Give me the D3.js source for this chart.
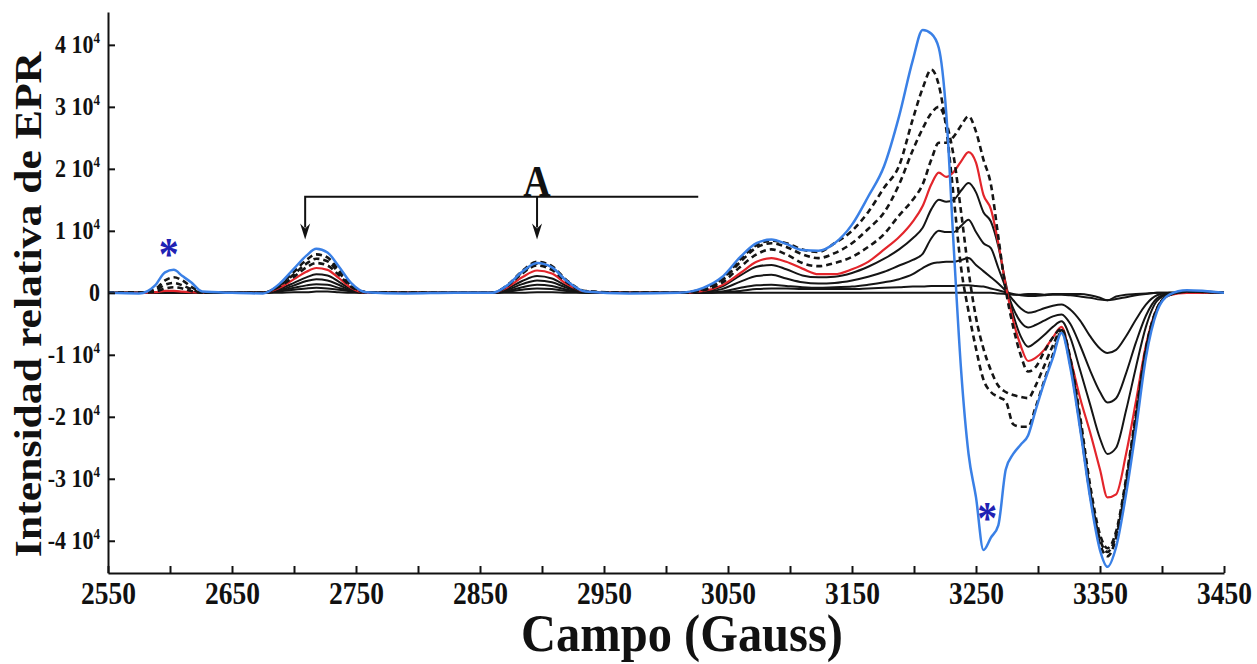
<!DOCTYPE html>
<html>
<head>
<meta charset="utf-8">
<script src="https://cdn.jsdelivr.net/npm/d3@7"></script>
<style>
  body { margin: 0; background: #fff; }
  svg { display: block; }
  text { font-family: "Liberation Serif", "Times New Roman", serif; font-weight: bold; fill: #111; }
</style>
</head>
<body>
<svg id="chart" width="1257" height="664"></svg>
<script>
// Magnetic field (Gauss) at which every spectrum is sampled
const field = [
  2550, 2575, 2588, 2596, 2603, 2610, 2617, 2626, 2650,
  2675, 2688, 2700, 2710, 2718, 2727, 2736, 2746, 2758, 2790,
  2830,
  2860, 2872, 2884, 2896, 2908, 2920, 2935, 2970,
  3010, 3030, 3045, 3060, 3073, 3085, 3097, 3110, 3123, 3136, 3150, 3163, 3176, 3188, 3199,
  3207, 3214, 3220, 3226, 3232, 3238, 3244, 3250, 3256, 3262, 3268, 3274, 3280, 3286, 3292, 3298, 3305, 3312, 3319,
  3326, 3334, 3342, 3350, 3356, 3363, 3371, 3379, 3387, 3396, 3406, 3420, 3450
];

// EPR intensity, in units of 10^4, one array per spectrum
const blueSpectrum = [
  0.0, -0.01, 0.12, 0.33, 0.37, 0.27, 0.17, 0.02, 0.0,
  -0.01, 0.14, 0.39, 0.6, 0.71, 0.65, 0.43, 0.16, 0.01, -0.01,
  0.0,
  0.0, 0.12, 0.34, 0.48, 0.41, 0.19, 0.02, -0.01,
  0.0, 0.08, 0.25, 0.58, 0.8, 0.86, 0.79, 0.69, 0.68, 0.8, 1.1, 1.55, 2.05, 2.85, 3.75,
  4.24, 4.18, 3.95, 2.9, 0.75, -1.25, -2.6, -3.3, -4.15, -3.95, -3.75, -2.85, -2.6, -2.45, -2.3, -1.9, -1.45, -1.05, -0.65,
  -1.2, -2.2, -3.3, -4.15, -4.42, -4.1, -3.25, -2.2, -1.05, -0.3, -0.03, 0.04, 0.0
];
const dashed1 = [
  0, 0, 0.06, 0.2, 0.25, 0.2, 0.1, 0.01, 0,
  0, 0.12, 0.34, 0.53, 0.62, 0.57, 0.37, 0.14, 0.01, 0,
  0,
  0, 0.12, 0.35, 0.5, 0.43, 0.2, 0.03, 0,
  0, 0.06, 0.22, 0.54, 0.77, 0.84, 0.8, 0.7, 0.66, 0.8, 1.0, 1.3, 1.7, 2.05, 2.8,
  3.3, 3.6, 3.35, 2.65, 1.55, 0.4, -0.3, -0.9, -1.4, -1.6, -1.68, -1.75, -2.12, -2.16, -2.16, -1.85, -1.42, -1.0, -0.62,
  -1.15, -2.15, -3.25, -4.05, -4.25, -3.95, -3.1, -2.05, -0.95, -0.27, -0.03, 0.02, 0
];
const dashed2 = [
  0, 0, 0.04, 0.13, 0.16, 0.12, 0.06, 0, 0,
  0, 0.11, 0.3, 0.47, 0.55, 0.51, 0.33, 0.12, 0.01, 0,
  0,
  0, 0.12, 0.33, 0.47, 0.4, 0.19, 0.02, 0,
  0, 0.05, 0.2, 0.5, 0.73, 0.8, 0.74, 0.62, 0.56, 0.64, 0.8, 1.03, 1.3, 1.75, 2.3,
  2.65, 2.9, 3.0, 2.75, 2.2, 1.3, 0.35, -0.4, -0.9, -1.25, -1.5, -1.6, -1.65, -1.68, -1.7, -1.5, -1.18, -0.85, -0.6,
  -1.1, -2.1, -3.2, -3.98, -4.18, -3.9, -3.05, -2.0, -0.92, -0.26, -0.03, 0.02, 0
];
const dashed3 = [
  0, 0, 0.02, 0.07, 0.09, 0.07, 0.03, 0, 0,
  0, 0.1, 0.26, 0.41, 0.48, 0.44, 0.29, 0.1, 0.01, 0,
  0,
  0, 0.11, 0.31, 0.44, 0.37, 0.17, 0.02, 0,
  0, 0.04, 0.16, 0.42, 0.62, 0.7, 0.62, 0.48, 0.43, 0.48, 0.58, 0.74, 0.95, 1.25, 1.5,
  1.75, 2.15, 2.42, 2.42, 2.52, 2.7, 2.85, 2.6, 2.15, 1.75, 0.9, 0.05, -0.55, -1.0, -1.27, -1.2, -0.95, -0.72, -0.58,
  -1.05, -2.0, -3.1, -3.9, -4.12, -3.85, -3.0, -1.95, -0.9, -0.25, -0.03, 0.02, 0
];
const redSpectrum = [
  0, 0, 0.01, 0.03, 0.03, 0.02, 0.01, 0, 0,
  0, 0.08, 0.22, 0.34, 0.4, 0.37, 0.24, 0.08, 0, 0,
  0,
  0, 0.09, 0.25, 0.36, 0.31, 0.14, 0.02, 0,
  0, 0.03, 0.12, 0.32, 0.5, 0.56, 0.5, 0.39, 0.3, 0.3, 0.38, 0.5, 0.7, 0.9, 1.15,
  1.4, 1.75, 1.94, 1.87, 1.95, 2.12, 2.27, 2.1, 1.58, 1.35, 0.8, 0.12, -0.45, -0.85, -1.1, -1.05, -0.92, -0.72, -0.55,
  -1.05, -1.7, -2.25, -2.85, -3.3, -3.25, -2.6, -1.75, -0.85, -0.25, -0.04, 0, 0
];
const solid1 = [
  0, 0, 0, 0.02, 0.02, 0.01, 0, 0, 0,
  0, 0.06, 0.16, 0.25, 0.3, 0.28, 0.18, 0.06, 0, 0,
  0,
  0, 0.07, 0.19, 0.27, 0.23, 0.11, 0.01, 0,
  0, 0.02, 0.1, 0.28, 0.42, 0.45, 0.38, 0.28, 0.25, 0.26, 0.32, 0.42, 0.55, 0.7, 0.88,
  1.05, 1.35, 1.5, 1.47, 1.5, 1.65, 1.77, 1.62, 1.3, 1.15, 0.75, 0.15, -0.35, -0.7, -0.87, -0.8, -0.68, -0.55, -0.46,
  -0.72, -1.25, -1.8, -2.35, -2.6, -2.5, -1.9, -1.2, -0.55, -0.13, -0.02, 0, 0
];
const solid2 = [
  0, 0, 0, 0.01, 0.01, 0, 0, 0, 0,
  0, 0.04, 0.12, 0.19, 0.22, 0.2, 0.13, 0.04, 0, 0,
  0,
  0, 0.05, 0.14, 0.2, 0.17, 0.08, 0.01, 0,
  0, 0.01, 0.06, 0.18, 0.27, 0.29, 0.23, 0.17, 0.15, 0.16, 0.2, 0.26, 0.34, 0.44, 0.53,
  0.63, 0.88, 1.0, 0.98, 0.98, 1.08, 1.18, 0.98, 0.8, 0.72, 0.4, 0.08, -0.25, -0.47, -0.56, -0.52, -0.45, -0.38, -0.35,
  -0.5, -0.85, -1.25, -1.6, -1.77, -1.7, -1.3, -0.8, -0.37, -0.09, -0.01, 0, 0
];
const solid3 = [
  0, 0, 0, 0, 0, 0, 0, 0, 0,
  0, 0.03, 0.08, 0.12, 0.14, 0.13, 0.08, 0.03, 0, 0,
  0,
  0, 0.03, 0.09, 0.13, 0.11, 0.05, 0.01, 0,
  0, 0, 0.02, 0.08, 0.12, 0.13, 0.11, 0.09, 0.08, 0.09, 0.1, 0.13, 0.17, 0.22, 0.3,
  0.4, 0.47, 0.49, 0.5, 0.5, 0.53, 0.56, 0.45, 0.35, 0.25, 0.15, 0.03, -0.12, -0.25, -0.32, -0.3, -0.25, -0.21, -0.19,
  -0.27, -0.45, -0.7, -0.9, -0.97, -0.92, -0.7, -0.43, -0.19, -0.04, 0, 0, 0
];
const solid4 = [
  0, 0, 0, 0, 0, 0, 0, 0, 0,
  0, 0.02, 0.05, 0.07, 0.08, 0.07, 0.05, 0.02, 0, 0,
  0,
  0, 0.02, 0.05, 0.07, 0.06, 0.03, 0, 0,
  0, 0, 0.01, 0.03, 0.06, 0.07, 0.07, 0.06, 0.06, 0.06, 0.06, 0.07, 0.08, 0.09, 0.1,
  0.1, 0.11, 0.11, 0.11, 0.11, 0.12, 0.12, 0.11, 0.1, 0.07, 0.04, 0.01, -0.02, -0.04, -0.05, -0.05, -0.04, -0.03, -0.03,
  -0.04, -0.06, -0.08, -0.11, -0.12, -0.1, -0.07, -0.04, -0.02, 0, 0, 0, 0
];
const initialSpectrum = [
  0, 0, 0, 0, 0, 0, 0, 0, 0,
  0, 0, 0.01, 0.01, 0.02, 0.02, 0.01, 0, 0, 0,
  0,
  0, 0, 0, 0.01, 0.01, 0, 0, 0,
  0, 0, 0, 0, 0, 0, 0, 0, 0, 0, 0, 0, 0, 0, 0,
  0, 0, 0, 0, 0, 0, 0, 0, 0, 0, -0.01, -0.02, -0.03, -0.03, -0.02, -0.02, -0.03, -0.02, -0.02,
  -0.02, -0.02, -0.04, -0.08, -0.12, -0.06, -0.03, -0.02, -0.01, 0, 0, 0, 0
];

// Axis ticks
const fieldTicks = d3.range(2550, 3451, 50);
const fieldLabels = [2550, 2650, 2750, 2850, 2950, 3050, 3150, 3250, 3350, 3450];
const intensityTicks = [-4, -3, -2, -1, 0, 1, 2, 3, 4];

// Bracket "A" and the two marker asterisks (field in G, intensity in 10^4)
const bracketFields = [2709, 2896, 3026];
const bracketLevel = 1.55;
const arrowTipLevel = 0.86;
const markerFields = [2599, 3259];
const markerLevels = [0.66, -3.6];

// Drawing order: bottom to top
const series = [
  { values: initialSpectrum, color: "#151515", width: 2, dash: null },
  { values: solid4, color: "#151515", width: 2, dash: null },
  { values: solid3, color: "#151515", width: 2, dash: null },
  { values: solid2, color: "#151515", width: 2, dash: null },
  { values: solid1, color: "#151515", width: 2, dash: null },
  { values: redSpectrum, color: "#e3252b", width: 2.2, dash: null },
  { values: dashed3, color: "#151515", width: 2.6, dash: "6 4" },
  { values: dashed2, color: "#151515", width: 2.6, dash: "6 4" },
  { values: dashed1, color: "#151515", width: 2.6, dash: "6 4" },
  { values: blueSpectrum, color: "#3a80e6", width: 2.5, dash: null }
];

const svg = d3.select("#chart");
const plotLeft = 108, plotRight = 1224, plotTop = 12, plotBottom = 573;
const STRETCH = 1.15;

const x = d3.scaleLinear().domain([2550, 3450]).range([plotLeft, plotRight]);
const y = d3.scaleLinear().domain([-4.52, 4.53]).range([plotBottom, plotTop]);

const line = d3.line()
  .x((d) => x(d[0]))
  .y((d) => y(d[1]))
  .curve(d3.curveMonotoneX);

svg.append("g").selectAll("path")
  .data(series)
  .join("path")
  .attr("d", (s) => line(field.map((f, i) => [f, s.values[i]])))
  .attr("fill", "none")
  .attr("stroke", (s) => s.color)
  .attr("stroke-width", (s) => s.width)
  .attr("stroke-dasharray", (s) => s.dash)
  .attr("stroke-linejoin", "round");

// Bottom axis
const xAxis = svg.append("g")
  .attr("transform", `translate(0,${plotBottom})`)
  .call(d3.axisBottom(x).tickValues(fieldTicks).tickSize(-7).tickSizeOuter(0)
    .tickFormat((d) => (fieldLabels.includes(d) ? d : "")));
xAxis.select(".domain").attr("stroke", "#111").attr("stroke-width", 2);
xAxis.selectAll(".tick line").attr("stroke", "#111").attr("stroke-width", 2);
xAxis.selectAll(".tick text")
  .attr("y", 0).attr("dy", null)
  .attr("transform", `translate(0,31) scale(1,${STRETCH})`)
  .attr("font-size", 27.5)
  .attr("fill", "#111");

// Left axis
const yAxis = svg.append("g")
  .attr("transform", `translate(${plotLeft},0)`)
  .call(d3.axisLeft(y).tickValues(intensityTicks).tickSize(-7).tickSizeOuter(0).tickFormat(""));
yAxis.select(".domain").attr("stroke", "#111").attr("stroke-width", 2);
yAxis.selectAll(".tick line").attr("stroke", "#111").attr("stroke-width", 2);
yAxis.selectAll(".tick").each(function (d) {
  const t = d3.select(this).select("text")
    .attr("x", 0).attr("y", 0).attr("dy", null)
    .attr("text-anchor", "end")
    .attr("transform", `translate(-8,8) scale(1,${STRETCH})`)
    .attr("font-size", 22)
    .attr("fill", "#111")
    .text(null);
  if (d === 0) {
    t.text("0");
  } else {
    t.append("tspan").text(`${d} 10`);
    t.append("tspan").attr("font-size", 13).attr("dy", -9).text("4");
  }
});

// Axis titles
svg.append("text")
  .attr("transform", `translate(${(plotLeft + plotRight) / 2 + 16},651) scale(1,1.1)`)
  .attr("text-anchor", "middle")
  .attr("font-size", 48.5)
  .text("Campo (Gauss)");

svg.append("text")
  .attr("transform", `translate(41,${(plotTop + plotBottom) / 2 + 12}) rotate(-90) scale(${STRETCH},1)`)
  .attr("text-anchor", "middle")
  .attr("font-size", 38)
  .text("Intensidad relativa de EPR");

// Bracket with arrows pointing at the features marked "A"
const ann = svg.append("g").attr("stroke", "#111").attr("stroke-width", 2).attr("fill", "none");
ann.append("path")
  .attr("d", `M${x(bracketFields[0])},${y(arrowTipLevel) - 12}V${y(bracketLevel)}H${x(bracketFields[2])}`);
ann.append("path")
  .attr("d", `M${x(bracketFields[1])},${y(bracketLevel)}V${y(arrowTipLevel) - 12}`);
svg.append("g").selectAll("path")
  .data([bracketFields[0], bracketFields[1]])
  .join("path")
  .attr("d", (f) => {
    const px = x(f), tip = y(arrowTipLevel);
    return `M${px},${tip}L${px - 5},${tip - 16}L${px},${tip - 11}L${px + 5},${tip - 16}Z`;
  })
  .attr("fill", "#111");
svg.append("text")
  .attr("transform", `translate(${x(bracketFields[1])},${y(bracketLevel) - 1}) scale(1,${STRETCH})`)
  .attr("text-anchor", "middle")
  .attr("font-size", 38)
  .text("A");

// Asterisks marking the signals of the blue spectrum
svg.append("g").selectAll("text")
  .data(markerFields.map((f, i) => [f, markerLevels[i]]))
  .join("text")
  .attr("transform", (d) => `translate(${x(d[0])},${y(d[1]) + 18}) scale(1,${STRETCH})`)
  .attr("text-anchor", "middle")
  .attr("font-size", 40)
  .style("fill", "#1f22b4")
  .text("*");
</script>
</body>
</html>
